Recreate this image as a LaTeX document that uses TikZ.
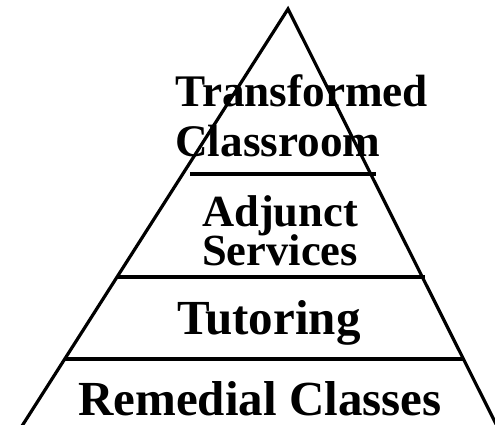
\documentclass[tikz,border=0pt]{standalone}
\usepackage{fontspec}
\setmainfont{Liberation Serif}
\begin{document}
\begin{tikzpicture}[x=1pt,y=-1pt,
  edge/.style={line width=3.2pt},
  tier/.style={line width=3.2pt},
  lbl/.style={inner sep=0pt,anchor=base west,font=\bfseries}]
\useasboundingbox (0,0) rectangle (495,425);
\begin{scope}
\clip (0,0) rectangle (495,425);
\coordinate (apex) at (288,9);
\coordinate (bl) at (22,426);
\coordinate (br) at (497,426);
\draw[edge,line join=miter] (bl) -- (apex) -- (br);
\draw[tier] (190,174) -- (376,174);
\draw[tier] (117,277) -- (425,277);
\draw[tier] (65,359) -- (463,359);
\end{scope}
\node[lbl,font=\fontsize{45.2}{45.2}\selectfont\bfseries] (t1) at (175,107) {Transformed};
\node[lbl,font=\fontsize{45.2}{45.2}\selectfont\bfseries] (t2) at (175,157) {Classroom};
\node[lbl,font=\fontsize{44.5}{44.5}\selectfont\bfseries] (a1) at (202,226) {Adjunct};
\node[lbl,font=\fontsize{44.5}{44.5}\selectfont\bfseries] (a2) at (202,265) {Services};
\node[lbl,font=\fontsize{49}{49}\selectfont\bfseries] (tu) at (177,334) {Tutoring};
\node[lbl,font=\fontsize{49}{49}\selectfont\bfseries] (re) at (78,415) {Remedial Classes};
\end{tikzpicture}
\end{document}
